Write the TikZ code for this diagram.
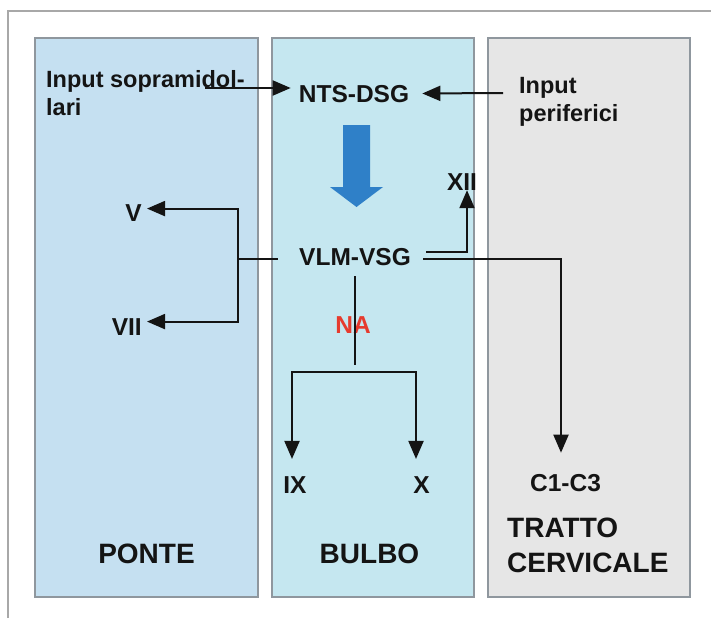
\documentclass[tikz,border=0pt]{standalone}
\usepackage{fontspec}
\setmainfont{Liberation Sans}
\usetikzlibrary{arrows.meta,positioning,calc}
\definecolor{ink}{RGB}{20,20,20}
\definecolor{edge}{RGB}{143,151,158}
\definecolor{framegray}{RGB}{168,168,168}
\definecolor{ponte}{RGB}{197,224,241}
\definecolor{bulbo}{RGB}{197,231,240}
\definecolor{cerv}{RGB}{230,230,230}
\definecolor{bigarr}{RGB}{47,128,200}
\definecolor{nared}{RGB}{230,59,46}
\tikzset{
  panel/.style={draw=edge,line width=1.6pt},
  lbl/.style={font=\fontsize{24.5}{29}\selectfont\bfseries,inner sep=0pt,text=ink},
  inp/.style={font=\fontsize{23.5}{27.5}\selectfont\bfseries,inner sep=0pt,align=left,text=ink},
  reg/.style={font=\fontsize{28}{35}\selectfont\bfseries,inner sep=0pt,align=left,text=ink},
  wire/.style={line width=2pt,ink},
  arr/.style={wire,-{Triangle[length=18pt,width=15pt]}},
}

\begin{document}
\begin{tikzpicture}[x=1pt,y=-1pt]
\useasboundingbox (0,0) rectangle (711,618);
% frame and the three regions
\draw[framegray,line width=1.5pt] (8,618) -- (8,11) -- (711,11);
\draw[panel,fill=ponte] (35,38) rectangle (258,597);
\draw[panel,fill=bulbo] (272,38) rectangle (474,597);
\draw[panel,fill=cerv] (488,38) rectangle (690,597);

% labels (base of a two-line node = last line)
\node[inp,anchor=base west] (insup) at (46,115) {Input sopramidol-\\lari};
\node[inp,anchor=base west] (inper) at (519,121) {Input\\periferici};
\node[lbl,anchor=base] (nts) at (354,102) {NTS-DSG};
\node[lbl,anchor=base] (vlm) at (355,265) {VLM-VSG};
\node[lbl,anchor=base] (xii) at (462,190) {XII};
\node[lbl,anchor=base east] (v) at (142,221) {V};
\node[lbl,anchor=base east] (vii) at (142,335) {VII};
\node[lbl,anchor=base,text=nared] (na) at (353,333) {NA};
\node[lbl,anchor=base] (ix) at (295,493) {IX};
\node[lbl,anchor=base] (xr) at (421.5,493) {X};
\node[lbl,anchor=base] (c13) at (565.5,491) {C1-C3};
\node[reg,anchor=base] (ponte) at (146.5,563) {PONTE};
\node[reg,anchor=base] (bulbo) at (369.5,563) {BULBO};
\node[reg,anchor=base west] (tratto) at (507,572) {TRATTO\\CERVICALE};

% big blue arrow
\fill[bigarr] (343,125) -- (370,125) -- (370,187) -- (383,187) -- (356.5,207)
  -- (330,187) -- (343,187) -- cycle;

% inputs
\coordinate (insupx) at (205,88);
\coordinate (inperx) at (503,93);
\draw[arr,shorten >=8pt] (insupx) -- (insupx -| nts.west);
\draw[arr,shorten >=13pt] (inperx) -- (nts.east);

% outputs of VLM-VSG
\coordinate (fork) at ([xshift=-61pt,yshift=-2pt]vlm.west);
\draw[wire] ([xshift=-21pt,yshift=-2pt]vlm.west) -- (fork);
\draw[arr,shorten >=5pt] (fork) |- ([yshift=4pt]v.east);
\draw[arr,shorten >=5pt] (fork) |- ([yshift=5pt]vii.east);
\draw[arr] ([xshift=15pt,yshift=5pt]vlm.east) -| ([xshift=5pt]xii.south);
\draw[arr,shorten >=21pt] ([xshift=12pt,yshift=-2pt]vlm.east) -| ([xshift=-4.5pt]c13.north);

\coordinate (split) at ([yshift=-107pt]vlm.south);
\draw[wire] ([yshift=-11pt]vlm.south) -- ([yshift=7pt]split);
\draw[arr,shorten >=17pt] (split) -| ([xshift=-3pt]ix.north);
\draw[arr,shorten >=17pt] (split) -| ([xshift=-5.5pt]xr.north);
\end{tikzpicture}
\end{document}
